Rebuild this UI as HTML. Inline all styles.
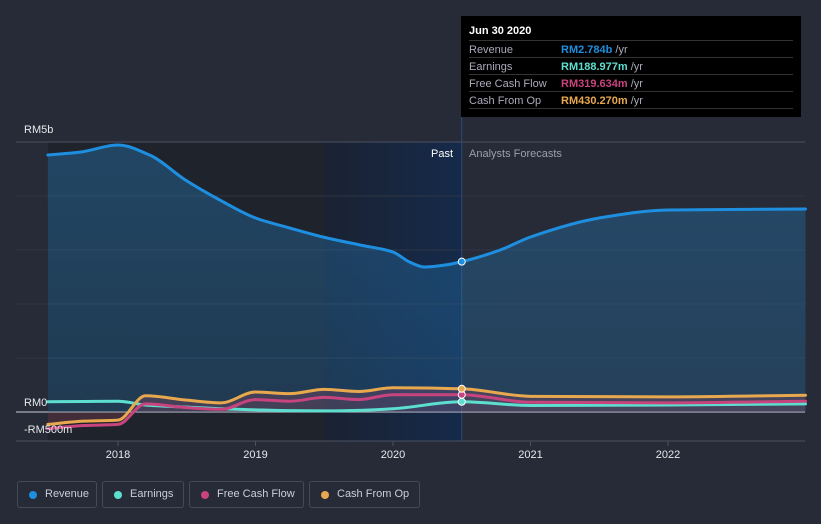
<!DOCTYPE html>
<html><head><meta charset="utf-8"><style>
body{margin:0;background:#262b37;width:821px;height:524px;overflow:hidden;font-family:"Liberation Sans",sans-serif}
svg{display:block}
</style></head><body>
<svg id="chart" width="821" height="524">
<defs>
<linearGradient id="fg" x1="0" y1="0" x2="0" y2="1"><stop offset="0" stop-color="#2470a8" stop-opacity="0.45"/><stop offset="1" stop-color="#2470a8" stop-opacity="0.3"/></linearGradient>
<linearGradient id="pastg" x1="0" y1="0" x2="1" y2="0"><stop offset="0" stop-color="#1a2232"/><stop offset="1" stop-color="#152a4a"/></linearGradient>
</defs>
<g id="bg"></g>
<g id="grid"></g>
<g id="areas"></g>
<g id="lines"></g>
<g id="dots"></g>
<g id="axis"></g>
</svg>
<script>
const revDates=[2017.49,2017.73,2018.0,2018.23,2018.49,2018.74,2019.0,2019.25,2019.49,2019.76,2020.0,2020.12,2020.23,2020.38,2020.5,2020.78,2021.0,2021.5,2022.0,2023.0];
const revenue=[4759,4815,4944,4759,4296,3926,3593,3407,3241,3093,2963,2778,2685,2722,2784,3000,3241,3593,3741,3759];
const otherDates=[2017.49,2017.75,2018.0,2018.2,2018.5,2018.75,2019.0,2019.25,2019.5,2019.75,2020.0,2020.5,2021.0,2022.0,2023.0];
const earnings=[190,195,200,130,90,60,40,25,20,30,60,189,120,130,150];
const fcf=[-310,-250,-230,150,80,50,230,200,270,230,320,320,180,170,200];
const cfo=[-230,-170,-150,300,220,170,370,340,420,380,450,430,290,280,310];
const yTicks=[{v:5000,l:"RM5b"},{v:0,l:"RM0"},{v:-500,l:"-RM500m"}];
const xTicks=[2018,2019,2020,2021,2022];
const NS="http://www.w3.org/2000/svg";
const X=t=>118+(t-2018)*137.5;
const Y=v=>412-v*0.054;
function mk(tag,attrs,parent){const e=document.createElementNS(NS,tag);for(const k in attrs)e.setAttribute(k,attrs[k]);parent.appendChild(e);return e;}
function path(d,v){
  const P=d.map((t,i)=>[X(t),Y(v[i])]);const n=P.length;
  // monotone cubic (Fritsch-Carlson)
  const dx=[],m=[],s=[];
  for(let i=0;i<n-1;i++){dx[i]=P[i+1][0]-P[i][0];s[i]=(P[i+1][1]-P[i][1])/dx[i];}
  m[0]=s[0];m[n-1]=s[n-2];
  for(let i=1;i<n-1;i++){m[i]=(s[i-1]*s[i]<=0)?0:3*(dx[i-1]+dx[i])/((2*dx[i]+dx[i-1])/s[i-1]+(dx[i]+2*dx[i-1])/s[i]);}
  let str="M"+P[0][0]+","+P[0][1];
  for(let i=0;i<n-1;i++){const h=dx[i]/3;str+=" C"+(P[i][0]+h)+","+(P[i][1]+m[i]*h)+" "+(P[i+1][0]-h)+","+(P[i+1][1]-m[i+1]*h)+" "+P[i+1][0]+","+P[i+1][1];}
  return str;}
const bg=document.getElementById('bg'),grid=document.getElementById('grid'),areas=document.getElementById('areas'),lines=document.getElementById('lines'),dots=document.getElementById('dots'),axis=document.getElementById('axis');
const x0=X(revDates[0]),xEnd=X(2023.0),xNow=X(2020.5);
let r=mk('rect',{x:x0,y:142,width:X(2019.5)-x0,height:299,fill:'#1f232c'},bg);

r=mk('rect',{x:X(2019.5),y:142,width:xNow-X(2019.5),height:299,fill:'url(#pastg)'},bg);

[5000,4000,3000,2000,1000].forEach(v=>{const l=mk('line',{x1:16,x2:805,y1:Y(v),y2:Y(v),stroke:v==5000?'#4a5060':'#2f3644','stroke-width':1},grid);});
let l=mk('line',{x1:16,x2:805,y1:441,y2:441,stroke:'#4a5060'},grid);
l=mk('line',{x1:xNow,x2:xNow,y1:110,y2:441,stroke:'#2c4a78'},grid);
let a=mk('path',{d:path(revDates,revenue)+" L"+xEnd+","+Y(0)+" L"+x0+","+Y(0)+"Z",fill:'url(#fg)'},areas);

a=mk('path',{d:path(otherDates,cfo)+" L"+xEnd+","+Y(0)+" L"+x0+","+Y(0)+"Z",fill:'#c0506a',opacity:0.22},areas);

l=mk('line',{x1:16,x2:805,y1:412,y2:412,stroke:'#c8ccd4','stroke-width':1},grid);
const series=[['earnings',otherDates,earnings,'#5ddfd0'],['free-cash-flow',otherDates,fcf,'#c8447f'],['cash-from-op',otherDates,cfo,'#e8a84e'],['revenue',revDates,revenue,'#1e8fe0']];
series.forEach(s=>{const p=mk('path',{d:path(s[1],s[2]),fill:'none',stroke:s[3],'stroke-width':3,'stroke-linecap':'round'},lines);
const i=s[1].indexOf(2020.5);const c=mk('circle',{cx:X(2020.5),cy:Y(s[2][i]),r:3.5,fill:s[3],stroke:'#fff','stroke-width':1},dots);});
yTicks.forEach(t=>{const e=mk('text',{x:24,y:t.v==5000?133:(t.v<0?433:406),fill:'#e6e8ec','font-size':11},axis);e.textContent=t.l;});
xTicks.forEach(t=>{const k=mk('line',{x1:X(t),x2:X(t),y1:441,y2:446,stroke:'#4a5060'},axis);
const e=mk('text',{x:X(t),y:458,fill:'#e6e8ec','font-size':11,'text-anchor':'middle'},axis);e.textContent=t;});
let e=mk('text',{x:453,y:157,fill:'#fff','font-size':11,'text-anchor':'end'},axis);e.textContent='Past';
e=mk('text',{x:469,y:157,fill:'#9aa0aa','font-size':11},axis);e.textContent='Analysts Forecasts';
</script>
<div style="position:absolute;left:461px;top:16px;width:340px;height:101px;background:#000;font-size:11px;color:#aab">
<div style="position:absolute;left:8px;top:9px;color:#fff;font-weight:bold">Jun 30 2020</div>
<div style="position:absolute;left:8px;top:24px;width:324px;border-top:1px solid #333"></div>
<div style="position:absolute;left:8px;top:26px;line-height:17px">
<div>Revenue</div><div>Earnings</div><div>Free Cash Flow</div><div>Cash From Op</div></div>
<div style="position:absolute;left:100px;top:26px;line-height:17px;font-weight:bold">
<div style="color:#1e8fe0">RM2.784b <span style="color:#aab;font-weight:normal">/yr</span></div>
<div style="color:#5ddfd0">RM188.977m <span style="color:#aab;font-weight:normal">/yr</span></div>
<div style="color:#c8447f">RM319.634m <span style="color:#aab;font-weight:normal">/yr</span></div>
<div style="color:#e8a84e">RM430.270m <span style="color:#aab;font-weight:normal">/yr</span></div></div>
<div style="position:absolute;left:8px;top:41px;width:324px;border-top:1px solid #333"></div>
<div style="position:absolute;left:8px;top:58px;width:324px;border-top:1px solid #333"></div>
<div style="position:absolute;left:8px;top:75px;width:324px;border-top:1px solid #333"></div>
<div style="position:absolute;left:8px;top:92px;width:324px;border-top:1px solid #333"></div>
</div>
<div style="position:absolute;left:0;top:481px;font-size:11px;color:#ccd">
<div style="position:absolute;left:17px;width:78px;height:25px;border:1px solid #444b58;border-radius:3px"><span style="position:absolute;left:11px;top:9px;width:8px;height:8px;border-radius:50%;background:#1e8fe0"></span><span style="position:absolute;left:27px;top:6px">Revenue</span></div>
<div style="position:absolute;left:102px;width:80px;height:25px;border:1px solid #444b58;border-radius:3px"><span style="position:absolute;left:11px;top:9px;width:8px;height:8px;border-radius:50%;background:#5ddfd0"></span><span style="position:absolute;left:27px;top:6px">Earnings</span></div>
<div style="position:absolute;left:189px;width:113px;height:25px;border:1px solid #444b58;border-radius:3px"><span style="position:absolute;left:11px;top:9px;width:8px;height:8px;border-radius:50%;background:#c8447f"></span><span style="position:absolute;left:27px;top:6px">Free Cash Flow</span></div>
<div style="position:absolute;left:309px;width:109px;height:25px;border:1px solid #444b58;border-radius:3px"><span style="position:absolute;left:11px;top:9px;width:8px;height:8px;border-radius:50%;background:#e8a84e"></span><span style="position:absolute;left:27px;top:6px">Cash From Op</span></div>
</div>
</body></html>
